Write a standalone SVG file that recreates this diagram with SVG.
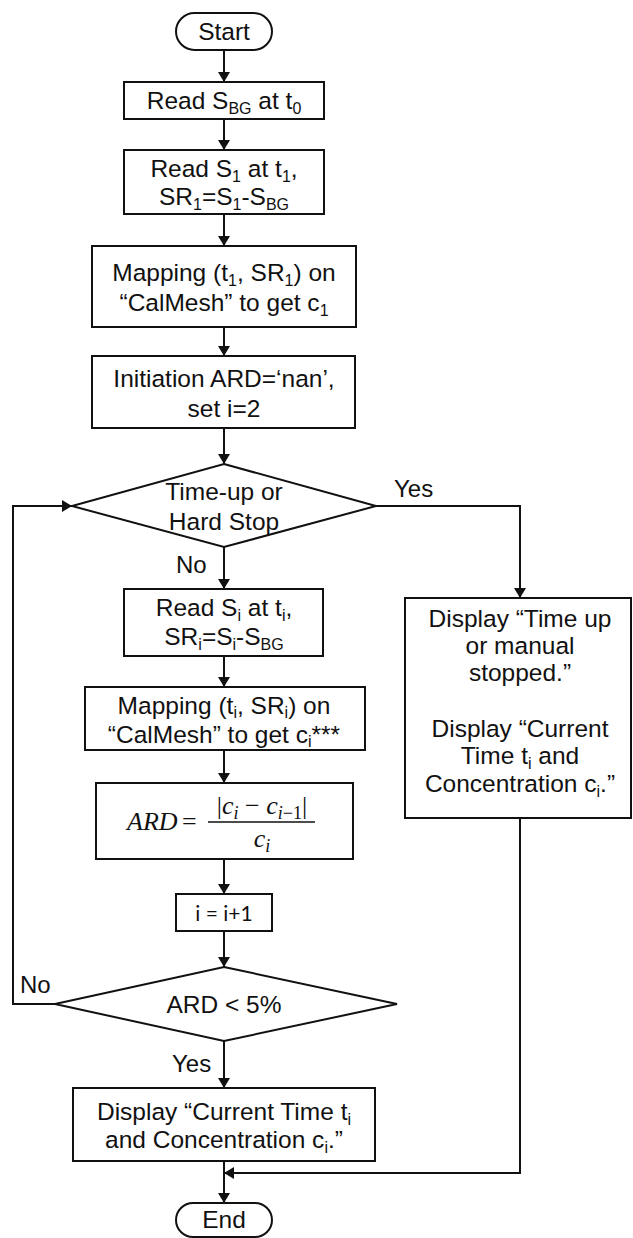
<svg xmlns="http://www.w3.org/2000/svg" width="633" height="1238" viewBox="0 0 633 1238">
  <defs>
    <style>
      .box { fill: #fff; stroke: #111; stroke-width: 2; }
      .c { fill: none; stroke: #111; stroke-width: 2; }
      .t { font-family: "Liberation Sans", Arial, sans-serif; font-size: 24.5px; fill: #111; text-anchor: middle; }
      .l { font-family: "Liberation Sans", Arial, sans-serif; font-size: 24px; fill: #111; }
      .sub { font-size: 16px; }
      .m { font-family: "Liberation Serif", "Times New Roman", serif; font-size: 26px; fill: #111; }
      .mi { font-style: italic; }
      .ms { font-size: 18px; }
      .cal { font-family: Lato, "Open Sans", sans-serif; font-size: 21px; fill: #111; text-anchor: middle; }
    </style>
    <marker id="arrow" viewBox="0 0 10 12" refX="10" refY="6" markerWidth="10" markerHeight="12" markerUnits="userSpaceOnUse" orient="auto">
      <path d="M0,0 L10,6 L0,12 z" fill="#111"/>
    </marker>
  </defs>
  <rect width="633" height="1238" fill="#fff"/>

  <!-- connectors -->
  <g id="connectors">
    <line class="c" x1="224" y1="50" x2="224" y2="82" marker-end="url(#arrow)"/>
    <line class="c" x1="224" y1="119" x2="224" y2="150" marker-end="url(#arrow)"/>
    <line class="c" x1="224" y1="214" x2="224" y2="246" marker-end="url(#arrow)"/>
    <line class="c" x1="224" y1="327" x2="224" y2="356" marker-end="url(#arrow)"/>
    <line class="c" x1="224" y1="428" x2="224" y2="464" marker-end="url(#arrow)"/>
    <line class="c" x1="224" y1="547" x2="224" y2="589" marker-end="url(#arrow)"/>
    <line class="c" x1="224" y1="656" x2="224" y2="687" marker-end="url(#arrow)"/>
    <line class="c" x1="224" y1="750" x2="224" y2="783" marker-end="url(#arrow)"/>
    <line class="c" x1="224" y1="859" x2="224" y2="894" marker-end="url(#arrow)"/>
    <line class="c" x1="224" y1="931" x2="224" y2="967" marker-end="url(#arrow)"/>
    <line class="c" x1="224" y1="1041" x2="224" y2="1088" marker-end="url(#arrow)"/>
    <line class="c" x1="224" y1="1161" x2="224" y2="1203" marker-end="url(#arrow)"/>
    <!-- loop back when ARD >= 5% -->
    <polyline class="c" points="55,1004 13,1004 13,506 72,506" marker-end="url(#arrow)"/>
    <!-- time-up / hard stop branch -->
    <polyline class="c" points="376,506 520,506 520,598" marker-end="url(#arrow)"/>
    <polyline class="c" points="520,818 520,1173 224,1173" marker-end="url(#arrow)"/>
  </g>

  <!-- edge labels -->
  <g id="labels">
    <text class="l" x="394" y="497">Yes</text>
    <text class="l" x="176" y="573">No</text>
    <text class="l" x="20" y="993">No</text>
    <text class="l" x="172" y="1072">Yes</text>
  </g>

  <g id="start">
    <rect class="box" x="176" y="13" width="96" height="37" rx="18.5"/>
    <text class="t" x="224" y="40">Start</text>
  </g>

  <g id="read-bg">
    <rect class="box" x="124" y="82" width="200" height="37"/>
    <text class="t" x="224" y="109">Read S<tspan class="sub" dy="5">BG</tspan><tspan dy="-5"> at t</tspan><tspan class="sub" dy="5">0</tspan></text>
  </g>

  <g id="read-s1">
    <rect class="box" x="124" y="150" width="200" height="64"/>
    <text class="t" x="224" y="177">Read S<tspan class="sub" dy="5">1</tspan><tspan dy="-5"> at t</tspan><tspan class="sub" dy="5">1</tspan><tspan dy="-5">,</tspan></text>
    <text class="t" x="224" y="205">SR<tspan class="sub" dy="5">1</tspan><tspan dy="-5">=S</tspan><tspan class="sub" dy="5">1</tspan><tspan dy="-5">-S</tspan><tspan class="sub" dy="5">BG</tspan></text>
  </g>

  <g id="map-c1">
    <rect class="box" x="92" y="246" width="264" height="81"/>
    <text class="t" x="224" y="281">Mapping (t<tspan class="sub" dy="5">1</tspan><tspan dy="-5">, SR</tspan><tspan class="sub" dy="5">1</tspan><tspan dy="-5">) on</tspan></text>
    <text class="t" x="224" y="311">“CalMesh” to get c<tspan class="sub" dy="5">1</tspan></text>
  </g>

  <g id="init">
    <rect class="box" x="92" y="356" width="263" height="72"/>
    <text class="t" x="224" y="387">Initiation ARD=‘nan’,</text>
    <text class="t" x="224" y="417">set i=2</text>
  </g>

  <g id="check-stop">
    <polygon class="box" points="224,464 376,506 224,547 72,506"/>
    <text class="t" x="224" y="500">Time-up or</text>
    <text class="t" x="224" y="530">Hard Stop</text>
  </g>

  <g id="read-si">
    <rect class="box" x="124" y="589" width="199" height="67"/>
    <text class="t" x="224" y="616">Read S<tspan class="sub" dy="5">i</tspan><tspan dy="-5"> at t</tspan><tspan class="sub" dy="5">i</tspan><tspan dy="-5">,</tspan></text>
    <text class="t" x="224" y="645">SR<tspan class="sub" dy="5">i</tspan><tspan dy="-5">=S</tspan><tspan class="sub" dy="5">i</tspan><tspan dy="-5">-S</tspan><tspan class="sub" dy="5">BG</tspan></text>
  </g>

  <g id="map-ci">
    <rect class="box" x="85" y="687" width="280" height="63"/>
    <text class="t" x="224" y="714">Mapping (t<tspan class="sub" dy="4">i</tspan><tspan dy="-4">, SR</tspan><tspan class="sub" dy="4">i</tspan><tspan dy="-4">) on</tspan></text>
    <text class="t" x="224" y="743">“CalMesh” to get c<tspan class="sub" dy="4">i</tspan><tspan dy="-4">***</tspan></text>
  </g>

  <g id="ard">
    <rect class="box" x="96" y="783" width="257" height="76"/>
    <text class="m mi" x="127" y="830">ARD</text>
    <text class="m" x="182" y="830">=</text>
    <text class="m" x="262" y="814" text-anchor="middle">|<tspan class="mi">c</tspan><tspan class="ms mi" dy="5">i</tspan><tspan dy="-5"> − </tspan><tspan class="mi">c</tspan><tspan class="ms" dy="5"><tspan class="mi">i</tspan>−1</tspan><tspan dy="-5">|</tspan></text>
    <line x1="208" y1="822" x2="315" y2="822" stroke="#111" stroke-width="1.5"/>
    <text class="m" x="262" y="847" text-anchor="middle"><tspan class="mi">c</tspan><tspan class="ms mi" dy="5">i</tspan></text>
  </g>

  <g id="increment">
    <rect class="box" x="176" y="894" width="96" height="37"/>
    <text class="cal" x="224" y="921">i = i+1</text>
  </g>

  <g id="check-ard">
    <polygon class="box" points="224,967 397,1004 224,1041 55,1004"/>
    <text class="t" x="224" y="1013">ARD &lt; 5%</text>
  </g>

  <g id="show-result">
    <rect class="box" x="73" y="1088" width="302" height="73"/>
    <text class="t" x="224" y="1120">Display “Current Time t<tspan class="sub" dy="5">i</tspan></text>
    <text class="t" x="224" y="1148">and Concentration c<tspan class="sub" dy="5">i</tspan><tspan dy="-5">.”</tspan></text>
  </g>

  <g id="show-stopped">
    <rect class="box" x="405" y="598" width="226" height="220"/>
    <text class="t" x="520" y="627">Display “Time up</text>
    <text class="t" x="520" y="654">or manual</text>
    <text class="t" x="520" y="681">stopped.”</text>
    <text class="t" x="520" y="737">Display “Current</text>
    <text class="t" x="520" y="764">Time t<tspan class="sub" dy="5">i</tspan><tspan dy="-5"> and</tspan></text>
    <text class="t" x="520" y="792">Concentration c<tspan class="sub" dy="5">i</tspan><tspan dy="-5">.”</tspan></text>
  </g>

  <g id="end">
    <rect class="box" x="176" y="1203" width="96" height="34" rx="17"/>
    <text class="t" x="224" y="1228">End</text>
  </g>
</svg>
